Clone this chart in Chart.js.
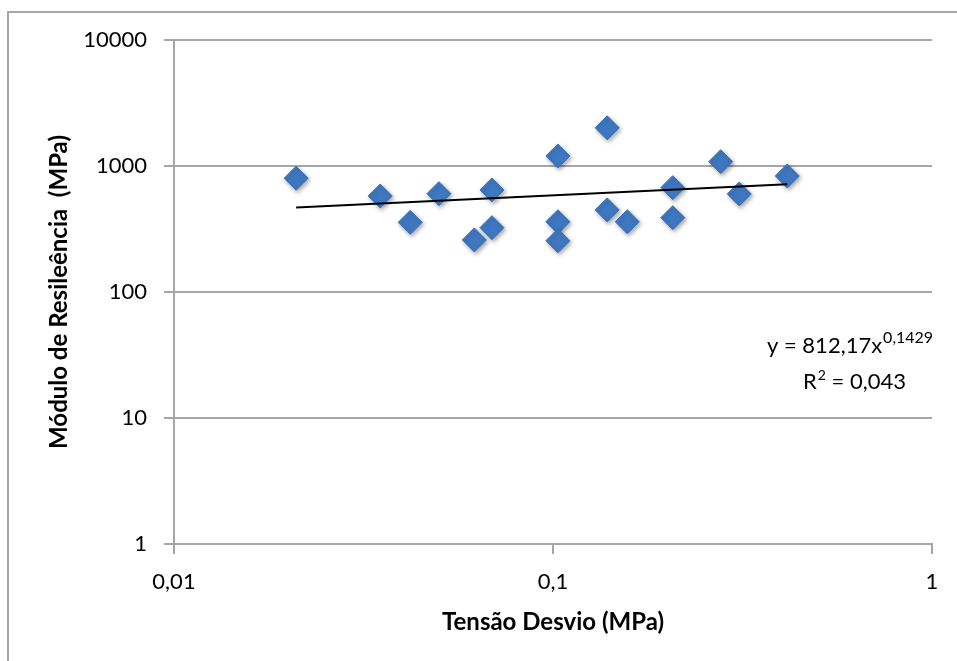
<!DOCTYPE html>
<html>
<head>
<meta charset="utf-8">
<script src="https://cdn.jsdelivr.net/npm/chart.js@4.4.1/dist/chart.umd.min.js"></script>
<style>
  html, body { margin: 0; padding: 0; background: #fff; }
  #wrap { position: relative; width: 957px; height: 661px; }
</style>
</head>
<body>
<div id="wrap"><canvas id="c" width="957" height="661"></canvas></div>
<script>
// ---- Data ----
const tensaoDesvio = [0.021, 0.035, 0.042, 0.050, 0.062, 0.069, 0.069, 0.103, 0.103, 0.103, 0.139, 0.139, 0.157, 0.207, 0.207, 0.277, 0.310, 0.415];
const moduloResiliencia = [800, 578, 357, 603, 259, 645, 324, 1200, 361, 255, 2010, 448, 361, 673, 389, 1082, 600, 833];
const trendX = [0.021, 0.415];
const trendY = [468, 716];
const xTickValues = [0.01, 0.1, 1];
const xTickLabels = ['0,01', '0,1', '1'];
const yTickValues = [1, 10, 100, 1000, 10000];
const yTickLabels = ['1', '10', '100', '1000', '10000'];
const eqMain = 'y = 812,17x';
const eqExp = '0,1429';
const r2Label = 'R';
const r2Rest = ' = 0,043';
const xTitle = 'Tensão Desvio (MPa)';
const yTitle = 'Módulo de Resileência  (MPa)';

const points = tensaoDesvio.map((x, i) => ({ x: x, y: moduloResiliencia[i] }));
const trend = trendX.map((x, i) => ({ x: x, y: trendY[i] }));

const gridColor = '#a6a6a6';
const FONT = 'Lato, "Open Sans", sans-serif';

const framePlugin = {
  id: 'frame',
  beforeDraw(chart) {
    const ctx = chart.ctx;
    ctx.save();
    ctx.fillStyle = '#ffffff';
    ctx.fillRect(0, 0, chart.width, chart.height);
    ctx.strokeStyle = '#a6a6a6';
    ctx.lineWidth = 2;
    ctx.beginPath();
    ctx.moveTo(8, chart.height + 5);
    ctx.lineTo(8, 12);
    ctx.lineTo(chart.width + 5, 12);
    ctx.stroke();
    ctx.restore();
  },
  beforeDatasetDraw(chart, args) {
    if (args.index === 1) {
      const ctx = chart.ctx;
      ctx.save();
      ctx.shadowColor = 'rgba(0,0,0,0.35)';
      ctx.shadowBlur = 4;
      ctx.shadowOffsetX = 1.5;
      ctx.shadowOffsetY = 2;
    }
  },
  afterDatasetDraw(chart, args) {
    if (args.index === 1) chart.ctx.restore();
  },
  afterDraw(chart) {
    const ctx = chart.ctx;
    ctx.save();
    ctx.fillStyle = '#000';
    ctx.textBaseline = 'alphabetic';
    ctx.textAlign = 'left';
    ctx.font = '22px ' + FONT;
    const x0 = 767;
    ctx.fillText(eqMain, x0, 353);
    const w = ctx.measureText(eqMain).width;
    ctx.font = '16px ' + FONT;
    ctx.fillText(eqExp, x0 + w + 1, 343);
    ctx.font = '22px ' + FONT;
    const rx = 803;
    ctx.fillText(r2Label, rx, 389);
    const rw = ctx.measureText(r2Label).width;
    ctx.font = '14px ' + FONT;
    ctx.fillText('2', rx + rw + 1, 380);
    const sw = ctx.measureText('2').width;
    ctx.font = '22px ' + FONT;
    ctx.fillText(r2Rest, rx + rw + sw + 1, 389);
    ctx.restore();
  }
};

new Chart(document.getElementById('c'), {
  type: 'scatter',
  data: {
    datasets: [
      {
        label: 'Tendência',
        data: trend,
        showLine: true,
        borderColor: '#000000',
        borderWidth: 2,
        pointRadius: 0,
        fill: false,
        order: 0
      },
      {
        label: 'Módulo de Resiliência',
        data: points,
        pointStyle: 'rectRot',
        pointRadius: 12,
        pointHoverRadius: 12,
        backgroundColor: '#3f78c1',
        borderColor: '#3a72b8',
        borderWidth: 1,
        order: 1
      }
    ]
  },
  options: {
    responsive: false,
    animation: false,
    devicePixelRatio: 1,
    layout: { padding: { left: 0, top: 40, right: 25, bottom: 0 } },
    plugins: { legend: { display: false }, tooltip: { enabled: false } },
    scales: {
      x: {
        type: 'logarithmic',
        min: 0.01,
        max: 1,
        afterBuildTicks(scale) { scale.ticks = xTickValues.map(v => ({ value: v })); },
        afterFit(scale) { scale.height = 117; },
        ticks: {
          autoSkip: false,
          maxRotation: 0,
          padding: 15,
          color: '#000',
          font: { family: FONT, size: 22 },
          callback(value) { const i = xTickValues.indexOf(value); return i >= 0 ? xTickLabels[i] : ''; }
        },
        grid: { drawOnChartArea: false, drawTicks: true, tickLength: 10, color: gridColor, lineWidth: 2 },
        border: { display: true, color: gridColor, width: 2 },
        title: {
          display: true,
          text: xTitle,
          color: '#000',
          font: { family: FONT, size: 24, weight: 'bold' },
          padding: { top: 0, bottom: 24 }
        }
      },
      y: {
        type: 'logarithmic',
        min: 1,
        max: 10000,
        afterBuildTicks(scale) { scale.ticks = yTickValues.map(v => ({ value: v })); },
        afterFit(scale) { scale.width = 174; },
        ticks: {
          padding: 17,
          color: '#000',
          font: { family: FONT, size: 22 },
          callback(value) { const i = yTickValues.indexOf(value); return i >= 0 ? yTickLabels[i] : ''; }
        },
        grid: { drawOnChartArea: true, drawTicks: true, tickLength: 10, color: gridColor, lineWidth: 2 },
        border: { display: true, color: gridColor, width: 2 },
        title: {
          display: true,
          text: yTitle,
          color: '#000',
          font: { family: FONT, size: 24, weight: 'bold' },
          padding: { top: 45, bottom: 0 }
        }
      }
    }
  },
  plugins: [framePlugin]
});
</script>
</body>
</html>
